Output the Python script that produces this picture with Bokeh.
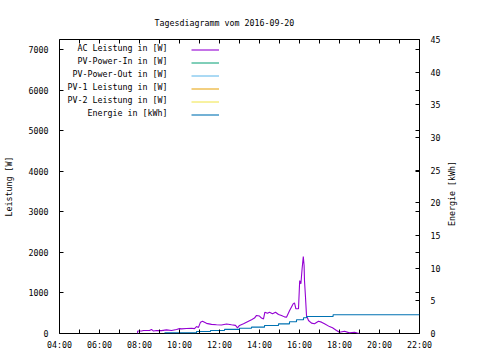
import math
from bokeh.plotting import figure
from bokeh.models import Range1d, LinearAxis, FixedTicker, Label, Legend, LegendItem
from bokeh.embed import file_html
from bokeh.resources import INLINE

title_text = "Tagesdiagramm vom 2016-09-20"
left_label = "Leistung [W]"
right_label = "Energie [kWh]"

# AC Leistung (time in hours, power in W)
ac_hours = [7.90, 7.91, 8.10, 8.20, 8.50, 8.60, 8.70, 8.85, 9.10, 9.35, 9.60, 9.85,
            10.00, 10.10, 10.35, 10.60, 10.75, 10.85, 10.95, 11.05, 11.15, 11.35, 11.60,
            11.85, 12.10, 12.35, 12.60, 12.80, 12.90, 13.00, 13.20, 13.40, 13.60, 13.75,
            13.85, 14.00, 14.10, 14.20, 14.27, 14.40, 14.50, 14.65, 14.80, 14.95, 15.10,
            15.25, 15.35, 15.50, 15.68, 15.75, 15.82, 15.95, 16.01, 16.07, 16.13, 16.19,
            16.23, 16.25, 16.30, 16.35, 16.45, 16.60, 16.75, 16.95, 17.10, 17.25, 17.50,
            17.65, 17.85, 18.00, 18.25, 18.50, 18.75, 18.90, 19.00]
ac_watts = [0, 60, 60, 75, 75, 100, 60, 75, 70, 90, 75, 100,
            120, 115, 125, 130, 120, 170, 150, 280, 300, 250, 225,
            215, 210, 235, 215, 200, 140, 200, 240, 290, 340, 380,
            445, 430, 380, 360, 525, 500, 525, 490, 525, 470, 445,
            410, 400, 560, 730, 755, 610, 610, 1305, 1225, 1595, 1900,
            1675, 1300, 895, 445, 320, 255, 240, 300, 280, 240, 170,
            140, 75, 30, 55, 15, 30, 10, 0]

# Energie (time in hours, energy in kWh)
energy_hours = [9.25, 10.85, 11.55, 12.25, 13.00, 13.60, 14.25, 14.95, 15.50,
                15.85, 16.20, 16.35, 17.68, 22.00]
energy_kwh = [0.10, 0.30, 0.46, 0.63, 0.81, 0.97, 1.22, 1.48, 1.80,
              2.10, 2.40, 2.60, 2.86, 2.86]

# series without visible data in the picture (no values)
nan = float("nan")
pv_in_hours, pv_in_watts = [nan], [nan]
pv_out_hours, pv_out_watts = [nan], [nan]
pv1_hours, pv1_watts = [nan], [nan]
pv2_hours, pv2_watts = [nan], [nan]

series_names = ["AC Leistung in [W]", "PV-Power-In in [W]", "PV-Power-Out in [W]",
                "PV-1 Leistung in [W]", "PV-2 Leistung in [W]", "Energie in [kWh]"]
series_colors = ["#9400d3", "#009e73", "#56b4e9", "#e69f00", "#f0e442", "#0072b2"]

x_ticks = [4, 6, 8, 10, 12, 14, 16, 18, 20, 22]
x_tick_labels = ["04:00", "06:00", "08:00", "10:00", "12:00", "14:00", "16:00",
                 "18:00", "20:00", "22:00"]
x_minor = [5, 7, 9, 11, 13, 15, 17, 19, 21]
y_ticks = [0, 1000, 2000, 3000, 4000, 5000, 6000, 7000]
y_max = 7250
y2_ticks = [0, 5, 10, 15, 20, 25, 30, 35, 40, 45]
y2_max = 45

FONT = "DejaVu Sans Mono"
FS = "8.3px"

p = figure(frame_width=360, frame_height=294,
           x_range=Range1d(4, 22), y_range=Range1d(0, y_max),
           output_backend="svg", toolbar_location=None,
           min_border_left=58, min_border_right=54,
           min_border_top=39, min_border_bottom=19)
p.background_fill_color = "white"
p.border_fill_color = "white"
p.outline_line_color = "black"
p.outline_line_width = 1
p.outline_line_alpha = 1
p.xgrid.visible = False
p.ygrid.visible = False

p.title.text = title_text
p.title.align = "left"
p.title.offset = 95
p.title.standoff = 24
p.title.text_font = FONT
p.title.text_font_size = FS
p.title.text_font_style = "normal"
p.title.text_color = "black"


def style_axis(ax):
    ax.axis_line_color = None
    ax.major_tick_out = 0
    ax.major_tick_in = 4
    ax.minor_tick_out = 0
    ax.minor_tick_in = 4
    ax.major_tick_line_color = "black"
    ax.minor_tick_line_color = "black"
    ax.major_label_text_font = FONT
    ax.major_label_text_font_size = FS
    ax.major_label_text_color = "black"
    ax.axis_label_text_font = FONT
    ax.axis_label_text_font_size = FS
    ax.axis_label_text_font_style = "normal"
    ax.axis_label_text_color = "black"


xb = p.xaxis[0]
xb.ticker = FixedTicker(ticks=x_ticks, minor_ticks=x_minor)
xb.major_label_overrides = {t: l for t, l in zip(x_ticks, x_tick_labels)}
style_axis(xb)
xb.major_label_standoff = 6

yl = p.yaxis[0]
yl.ticker = FixedTicker(ticks=y_ticks, minor_ticks=[])
style_axis(yl)
yl.major_label_standoff = 11
yl.axis_label = left_label
yl.axis_label_standoff = 12

# top mirror axis
xt = LinearAxis(ticker=FixedTicker(ticks=x_ticks, minor_ticks=x_minor))
style_axis(xt)
xt.major_label_text_alpha = 0
xt.major_label_text_font_size = "1px"
xt.major_label_standoff = 0
p.add_layout(xt, "above")

# right axis (energy), with mirrored left ticks as minor ticks
p.extra_y_ranges = {"energy": Range1d(0, y2_max)}
mirror = [t * y2_max / y_max for t in y_ticks[1:]]
yr = LinearAxis(y_range_name="energy", ticker=FixedTicker(ticks=y2_ticks, minor_ticks=mirror))
style_axis(yr)
yr.major_label_standoff = 11
p.add_layout(yr, "right")

# right axis title, reading bottom to top, in its own side panel
p.add_layout(Label(x=8, y=140, x_units="screen", y_units="screen", text=right_label,
                   angle=math.pi / 2, text_align="center", text_baseline="middle",
                   text_font=FONT, text_font_size=FS, text_color="black"), "right")

# data
r_ac = p.line(ac_hours, ac_watts, line_color=series_colors[0], line_width=1.1)
r_in = p.line(pv_in_hours, pv_in_watts, line_color=series_colors[1], line_width=1)
r_out = p.line(pv_out_hours, pv_out_watts, line_color=series_colors[2], line_width=1)
r_1 = p.line(pv1_hours, pv1_watts, line_color=series_colors[3], line_width=1)
r_2 = p.line(pv2_hours, pv2_watts, line_color=series_colors[4], line_width=1)
r_e = p.step(energy_hours, energy_kwh, mode="after", line_color=series_colors[5],
             line_width=1.1, y_range_name="energy")
renderers = [r_ac, r_in, r_out, r_1, r_2, r_e]

legend = Legend(items=[LegendItem(label=" ", renderers=[r]) for r in renderers],
                location=(132, 212), orientation="vertical",
                border_line_color=None, background_fill_alpha=0,
                padding=0, margin=0, spacing=0,
                glyph_width=28, glyph_height=13, label_height=13, label_width=0,
                label_standoff=0, label_text_font_size="8px")
p.add_layout(legend)

for i, name in enumerate(series_names):
    p.add_layout(Label(x=108, y=286 - 13 * i, x_units="screen", y_units="screen",
                       text=name, text_align="right", text_baseline="middle",
                       text_font=FONT, text_font_size=FS, text_color="black"))

open("out.html", "w").write(file_html(p, INLINE))
